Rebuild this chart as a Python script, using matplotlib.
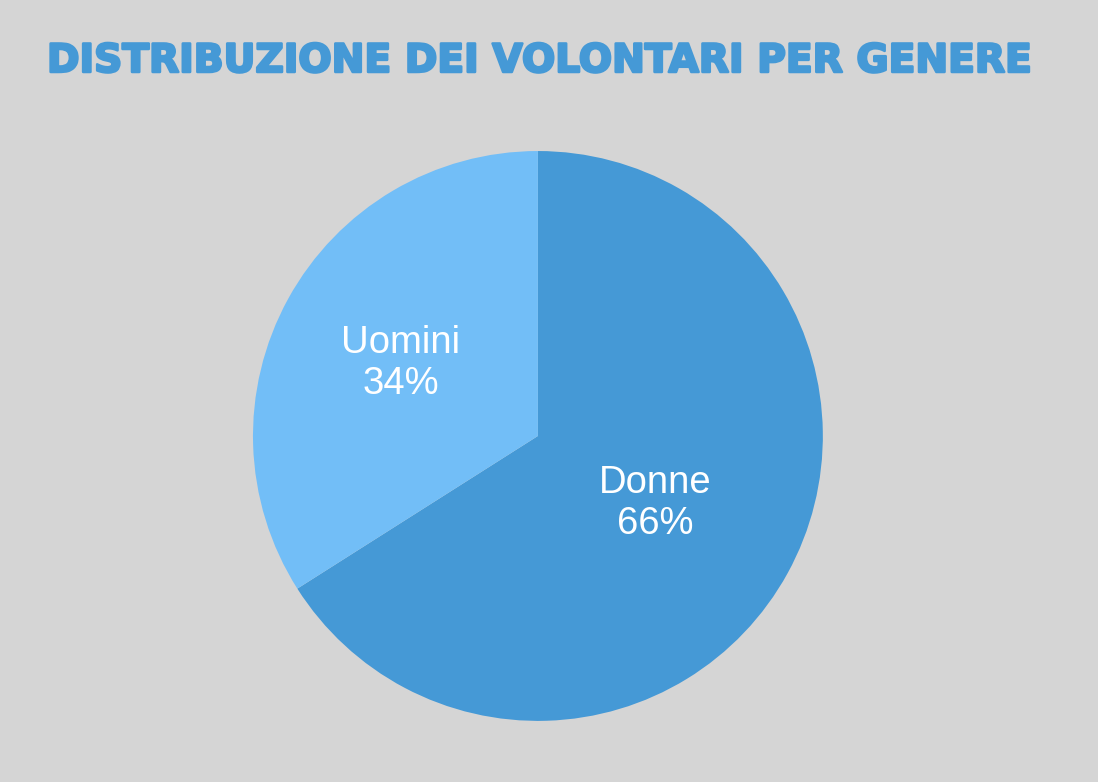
import matplotlib
matplotlib.use("Agg")
import matplotlib.pyplot as plt
import matplotlib.patheffects as pe
import numpy as np

# data
categories = ["Donne", "Uomini"]
shares = [66, 34]
colors = ["#4599d6", "#72bef7"]
title = "DISTRIBUZIONE DEI VOLONTARI PER GENERE"

bg = "#d5d5d5"

fig = plt.figure(figsize=(10.98, 7.82), dpi=100, facecolor=bg)
ax = fig.add_axes([0.2304, 0.078, 0.519, 0.729])
ax.set_facecolor(bg)

wedges, _ = ax.pie(shares, colors=colors, startangle=90, counterclock=False,
                   radius=1, wedgeprops=dict(linewidth=0))
ax.set_xlim(-1, 1)
ax.set_ylim(-1, 1)
ax.set_aspect("equal")
ax.axis("off")

# labels placed along the middle angle of each wedge
label_r = [0.47, 0.55]
for w, name, val, r in zip(wedges, categories, shares, label_r):
    mid = np.deg2rad((w.theta1 + w.theta2) / 2)
    ax.text(r * np.cos(mid), r * np.sin(mid) - 0.01, f"{name}\n{val}%",
            ha="center", va="center", color="white", fontsize=27.5,
            family="Liberation Sans", linespacing=1.2)

t = fig.text(47 / 1098, 1 - 61 / 782, title, ha="left", va="center",
             color="#4599d6", fontsize=28.2, family="DejaVu Sans", fontweight="bold")
t.set_path_effects([pe.withStroke(linewidth=1.8, foreground="#4599d6")])

fig.savefig("out.png", dpi=100, facecolor=bg)
